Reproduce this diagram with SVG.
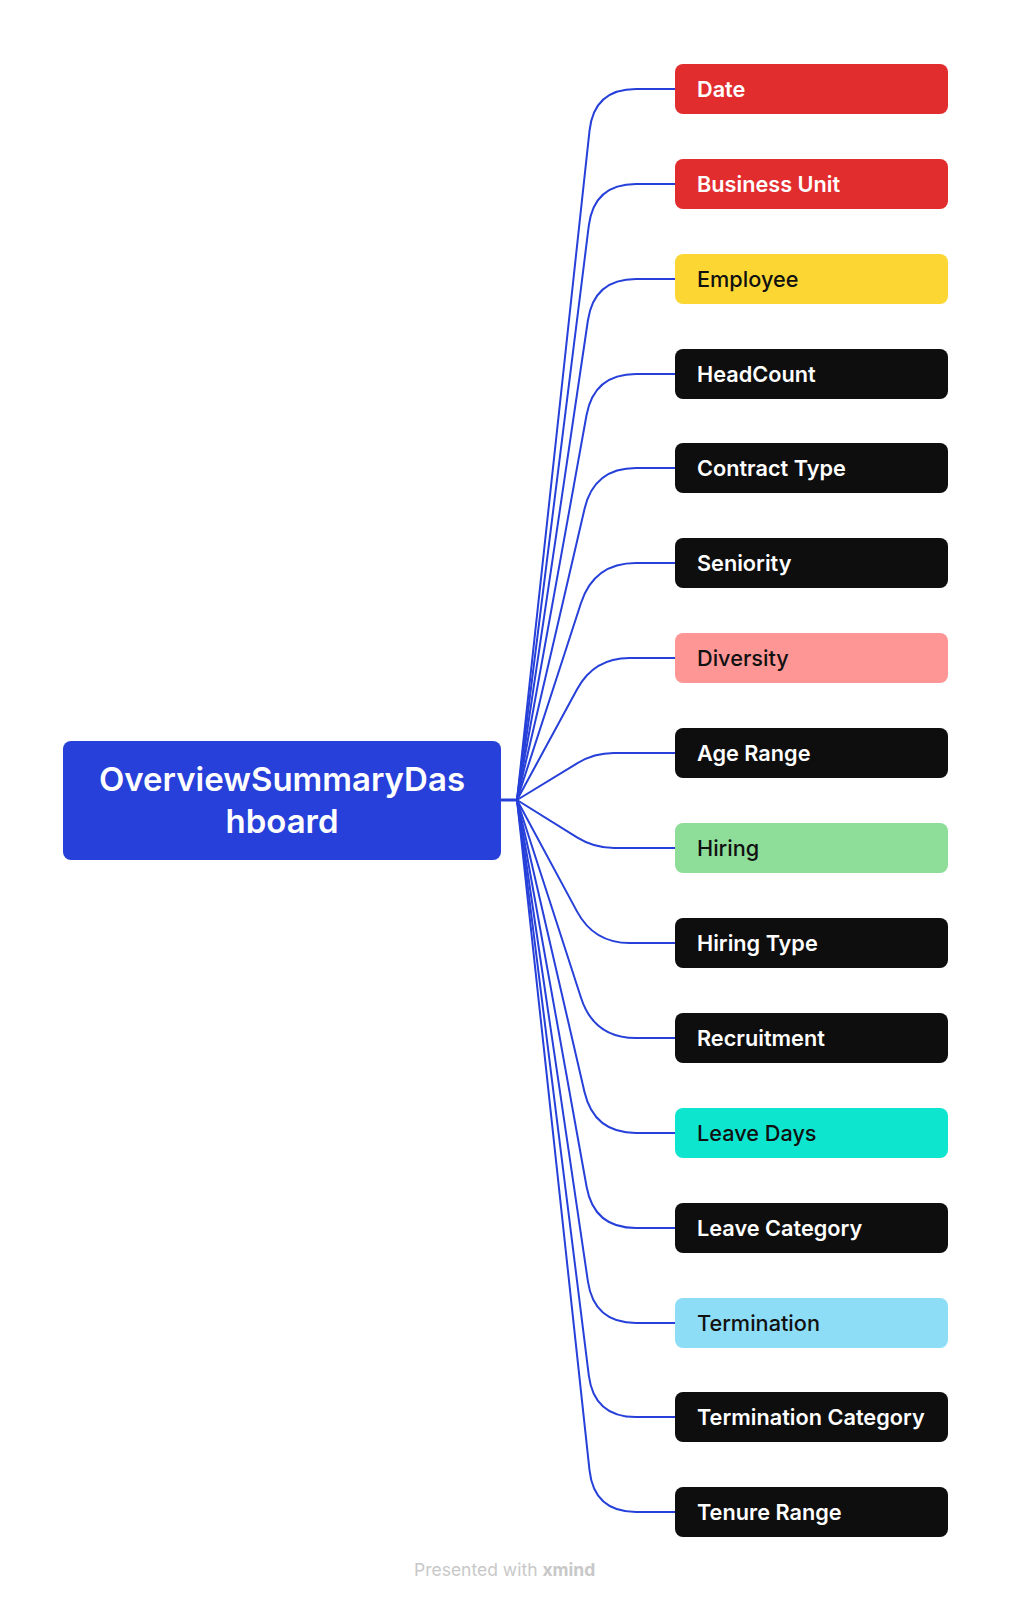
<svg xmlns="http://www.w3.org/2000/svg" width="1011" height="1602" viewBox="0 0 1011 1602">
<style>
.box{stroke:none}
.lbl{font-family:Inter,"Open Sans","Liberation Sans",sans-serif;font-size:21.7px;font-weight:600}
.w{fill:#ffffff}
.k{fill:#111111;font-weight:500}
.conn path{fill:none;stroke:#2640D9;stroke-width:2}
.root-t{font-family:Inter,"Open Sans","Liberation Sans",sans-serif;font-size:33px;font-weight:600;fill:#ffffff;text-anchor:middle}
.foot{font-family:Inter,"Open Sans","Liberation Sans",sans-serif;font-size:17.5px;fill:#c8c8c8}
</style>
<rect width="1011" height="1602" fill="#ffffff"/>
<g id="connectors" class="conn">
<path d="M501,800 L517,800" style="stroke-width:3"/>
<path d="M517,800 L589.5,130.8 Q594,89 636,89 L675,89"/>
<path d="M517,800 L588.8,225.7 Q594,184 636,184 L675,184"/>
<path d="M517,800 L587.9,320.5 Q594,279 636,279 L675,279"/>
<path d="M517,800 L586.5,415.3 Q594,374 636,374 L675,374"/>
<path d="M517,800 L584.5,508.9 Q594,468 636,468 L675,468"/>
<path d="M517,800 L581.0,603.0 Q594,563 636,563 L675,563"/>
<path d="M517,800 L577.1,689.2 Q594,658 629.5,658 L675,658"/>
<path d="M517,800 L577.1,763.3 Q594,753 613.8,753 L675,753"/>
<path d="M517,800 L577.0,837.4 Q594,848 614,848 L675,848"/>
<path d="M517,800 L577.1,911.6 Q594,943 629.7,943 L675,943"/>
<path d="M517,800 L581.1,998.0 Q594,1038 636,1038 L675,1038"/>
<path d="M517,800 L584.5,1092.1 Q594,1133 636,1133 L675,1133"/>
<path d="M517,800 L586.6,1186.7 Q594,1228 636,1228 L675,1228"/>
<path d="M517,800 L587.9,1281.4 Q594,1323 636,1323 L675,1323"/>
<path d="M517,800 L588.8,1375.3 Q594,1417 636,1417 L675,1417"/>
<path d="M517,800 L589.5,1470.2 Q594,1512 636,1512 L675,1512"/>
</g>
<g id="root">
<rect x="63" y="741" width="438" height="119" rx="8" fill="#2640D9"/>
<text class="root-t" x="282" y="791">OverviewSummaryDas</text>
<text class="root-t" x="282" y="833">hboard</text>
</g>
<g id="n-date"><rect class="box" x="675" y="64" width="273" height="50" rx="8" fill="#E22D2F"/><text class="lbl w" x="697" y="96.7">Date</text></g>
<g id="n-business-unit"><rect class="box" x="675" y="159" width="273" height="50" rx="8" fill="#E22D2F"/><text class="lbl w" x="697" y="191.7">Business Unit</text></g>
<g id="n-employee"><rect class="box" x="675" y="254" width="273" height="50" rx="8" fill="#FCD734"/><text class="lbl k" x="697" y="286.7">Employee</text></g>
<g id="n-headcount"><rect class="box" x="675" y="349" width="273" height="50" rx="8" fill="#0E0E0E"/><text class="lbl w" x="697" y="381.7">HeadCount</text></g>
<g id="n-contract-type"><rect class="box" x="675" y="443" width="273" height="50" rx="8" fill="#0E0E0E"/><text class="lbl w" x="697" y="475.7">Contract Type</text></g>
<g id="n-seniority"><rect class="box" x="675" y="538" width="273" height="50" rx="8" fill="#0E0E0E"/><text class="lbl w" x="697" y="570.7">Seniority</text></g>
<g id="n-diversity"><rect class="box" x="675" y="633" width="273" height="50" rx="8" fill="#FF9696"/><text class="lbl k" x="697" y="665.7">Diversity</text></g>
<g id="n-age-range"><rect class="box" x="675" y="728" width="273" height="50" rx="8" fill="#0E0E0E"/><text class="lbl w" x="697" y="760.7">Age Range</text></g>
<g id="n-hiring"><rect class="box" x="675" y="823" width="273" height="50" rx="8" fill="#8EDD99"/><text class="lbl k" x="697" y="855.7">Hiring</text></g>
<g id="n-hiring-type"><rect class="box" x="675" y="918" width="273" height="50" rx="8" fill="#0E0E0E"/><text class="lbl w" x="697" y="950.7">Hiring Type</text></g>
<g id="n-recruitment"><rect class="box" x="675" y="1013" width="273" height="50" rx="8" fill="#0E0E0E"/><text class="lbl w" x="697" y="1045.7">Recruitment</text></g>
<g id="n-leave-days"><rect class="box" x="675" y="1108" width="273" height="50" rx="8" fill="#0EE5CF"/><text class="lbl k" x="697" y="1140.7">Leave Days</text></g>
<g id="n-leave-category"><rect class="box" x="675" y="1203" width="273" height="50" rx="8" fill="#0E0E0E"/><text class="lbl w" x="697" y="1235.7">Leave Category</text></g>
<g id="n-termination"><rect class="box" x="675" y="1298" width="273" height="50" rx="8" fill="#8EDDF7"/><text class="lbl k" x="697" y="1330.7">Termination</text></g>
<g id="n-termination-category"><rect class="box" x="675" y="1392" width="273" height="50" rx="8" fill="#0E0E0E"/><text class="lbl w" x="697" y="1424.7">Termination Category</text></g>
<g id="n-tenure-range"><rect class="box" x="675" y="1487" width="273" height="50" rx="8" fill="#0E0E0E"/><text class="lbl w" x="697" y="1519.7">Tenure Range</text></g>
<g id="footer"><text class="foot" x="414" y="1576">Presented with <tspan font-weight="700">xmind</tspan></text></g>
</svg>
